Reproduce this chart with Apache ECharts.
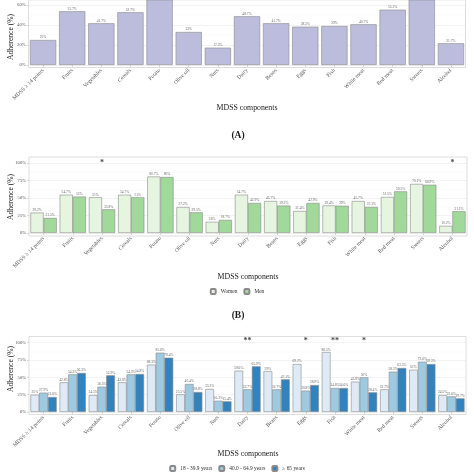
<!DOCTYPE html>
<html><head><meta charset="utf-8">
<script src="https://cdn.jsdelivr.net/npm/echarts@6/dist/echarts.min.js"></script>
<style>html,body{margin:0;padding:0;background:#fff}#c{width:474px;height:474px}</style>
</head><body><div id="c"></div>
<script>
const categories = ['MDSS \u2265 14 points','Fruits','Vegetables','Cereals','Potato','Olive oil','Nuts','Dairy','Beans','Eggs','Fish','White meat','Red meat','Sweets','Alcohol'];
const overall = [25, 53.7, 41.7, 52.7, 80.4, 33, 17.3, 48.7, 41.7, 38.3, 39, 40.7, 55.3, 69.6, 21.7];
const women = [29.2, 54.7, 51, 54.7, 80.7, 37.2, 16, 54.7, 45.7, 31.4, 39.4, 45.7, 51.5, 70.1, 10.2];
const men = [21.5, 52, 33.8, 51, 80, 29.5, 18.7, 42.9, 39.2, 42.9, 39, 37.3, 59.5, 68.9, 31.1];
const age18 = [25, 42.8, 24.5, 42.8, 68.3, 25.5, 33.2, 59.6, 59, 69.2, 86.5, 43.8, 32.7, 61, 24.5];
const age40 = [27.9, 54.3, 36.5, 54.3, 85.6, 40.4, 16.3, 32.7, 32.7, 30.8, 34.6, 50, 58.2, 72.6, 22.6];
const age65 = [21.6, 56.3, 52.9, 54.8, 78.4, 28.8, 15.4, 65.9, 47.1, 38.9, 34.6, 28.4, 63.5, 69.2, 19.7];
const sigB = [['Vegetables','*'],['Alcohol','*']];
const sigC = [['Dairy','**'],['Eggs','*'],['Fish','**'],['White meat','*']];

const FONT = 'Liberation Serif';
const chart = echarts.init(document.getElementById('c'), null, {renderer:'canvas'});

function xAx(gi){
  return {type:'category', gridIndex:gi, data:categories, offset:2.5,
    axisLine:{show:false}, axisTick:{show:true, alignWithLabel:true, length:2, lineStyle:{color:'#b0b0b0', width:0.5}},
    axisLabel:{rotate:45, fontSize:5.6, color:'#555', fontFamily:FONT, margin:2, interval:0},
    splitLine:{show:false}};
}
function yAx(gi, step, max){
  return {type:'value', gridIndex:gi, min:0, max:max, interval:step,
    axisLine:{show:false}, axisTick:{show:true, length:2, lineStyle:{color:'#b0b0b0', width:0.5}},
    axisLabel:{fontSize:4.6, color:'#555', fontFamily:FONT, margin:3, showMaxLabel: max === 100, formatter: v => v + '%'},
    splitLine:{show:true, lineStyle:{color:'#ebebeb', width:0.6}},
    minorTick:{show:false, splitNumber:2},
    minorSplitLine:{show:true, lineStyle:{color:'#f4f4f4', width:0.4}}};
}
const lbl = {show:true, position:'top', distance:0.5, fontSize:3.6, color:'#666', fontFamily:FONT, formatter: p => p.value + '%'};
const border = {borderColor:'#8a8a8a', borderWidth:0.6};

function barS(name, data, gi, color){
  return {type:'bar', name, data, xAxisIndex:gi, yAxisIndex:gi, barGap:'0%', barCategoryGap:'10%', clip:true,
    itemStyle:Object.assign({color}, border), label:lbl, emphasis:{disabled:true}};
}
function sigS(list, gi, y){
  return {type:'scatter', xAxisIndex:gi, yAxisIndex:gi, symbolSize:1, clip:false, itemStyle:{color:'rgba(0,0,0,0)'},
    data:list.map(s => ({value:[s[0], y], name:s[1]})), emphasis:{disabled:true},
    label:{show:true, position:'inside', formatter:'{b}', fontSize:8, fontWeight:'bold', color:'#111', fontFamily:FONT}};
}
function txt(x, y, text, size, opts){
  return Object.assign({type:'text', x, y, style:{text, fontSize:size, fontFamily:FONT, fill:'#1a1a1a', textAlign:'center', textVerticalAlign:'middle', fontWeight:(opts&&opts.bold)?'bold':'normal'}}, opts && opts.rot ? {rotation:Math.PI/2} : {});
}
function rect(x1, y1, x2, y2){
  return {type:'rect', shape:{x:x1, y:y1, width:x2-x1, height:y2-y1}, style:{fill:'none', stroke:'#d6d6d6', lineWidth:0.8}, z:100};
}

chart.setOption({
  animation:false,
  textStyle:{fontFamily:FONT},
  grid:[
    {left:28.5, top:0, width:437, height:65},
    {left:29, top:163, width:438, height:70},
    {left:29, top:342.7, width:437, height:69.3}
  ],
  xAxis:[xAx(0), xAx(1), xAx(2)],
  yAxis:[yAx(0, 20, 65), yAx(1, 25, 100), yAx(2, 25, 100)],
  legend:[
    {data:['Women','Men'], top:283, left:'center', itemWidth:5, itemHeight:5, itemGap:6,
     textStyle:{fontSize:5.4, color:'#333', fontFamily:FONT}, selectedMode:false},
    {data:['18 - 39.9 years','40.0 - 64.9 years','\u2265 65 years'], top:460, left:'center', itemWidth:5, itemHeight:5, itemGap:6,
     textStyle:{fontSize:5.4, color:'#333', fontFamily:FONT}, selectedMode:false}
  ],
  series:[
    barS('Overall', overall, 0, '#bcbddc'),
    barS('Women', women, 1, '#e5f5e0'),
    barS('Men', men, 1, '#a1d99b'),
    sigS(sigB, 1, 100),
    barS('18 - 39.9 years', age18, 2, '#deebf7'),
    barS('40.0 - 64.9 years', age40, 2, '#9ecae1'),
    barS('\u2265 65 years', age65, 2, '#3182bd'),
    sigS(sigC, 2, 102)
  ],
  graphic:[
    rect(28.5, -5, 465.5, 67.5),
    rect(29, 157, 467, 236),
    rect(29, 336.5, 466, 414.5),
    txt(11, 37, 'Adherence (%)', 7.6, {rot:true}),
    txt(11, 197, 'Adherence (%)', 7.6, {rot:true}),
    txt(11, 369, 'Adherence (%)', 7.6, {rot:true}),
    txt(247, 108, 'MDSS components', 7.8),
    txt(248, 277, 'MDSS components', 7.8),
    txt(248, 454, 'MDSS components', 7.8),
    txt(238, 136, '(A)', 9.5, {bold:true}),
    txt(238, 316, '(B)', 9.5, {bold:true})
  ]
});
</script></body></html>
